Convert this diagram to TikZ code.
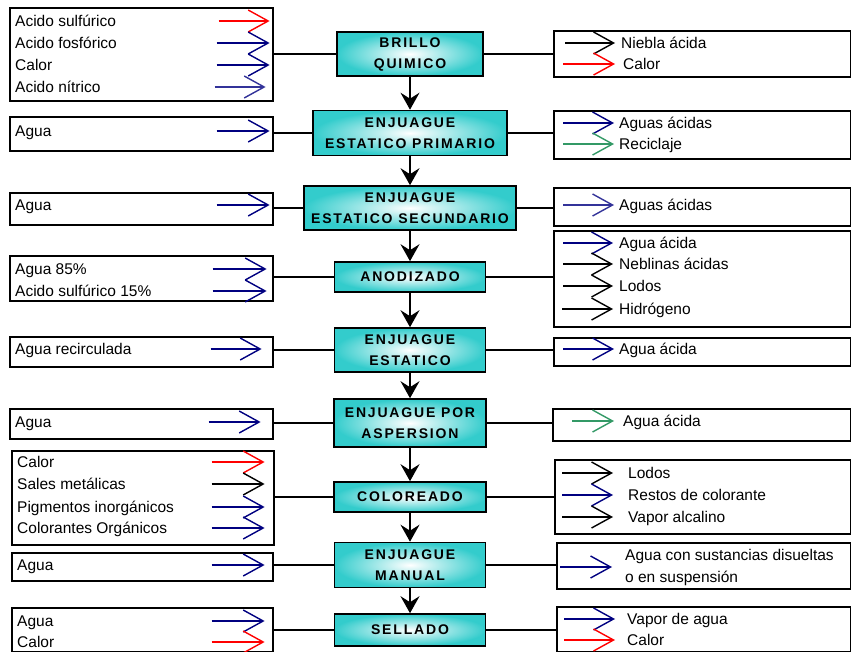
\documentclass[tikz,border=0pt]{standalone}
\usepackage{fontspec}
\setmainfont{Liberation Sans}
\newfontfamily\procfont{Liberation Sans}[LetterSpace=13]
\usetikzlibrary{arrows.meta,positioning,calc}

\definecolor{boxteal}{RGB}{51,204,204}
\definecolor{navyb}{RGB}{0,0,128}
\definecolor{indigob}{RGB}{51,51,153}
\definecolor{greenb}{RGB}{51,153,102}

\tikzset{
  proc/.style={draw, line width=1.6pt, inner color=white, outer color=boxteal,
    align=center, inner sep=0pt, font=\procfont\bfseries\fontsize{14}{21}\selectfont},
  sidebox/.style={draw, line width=1.6pt, anchor=north west, inner sep=0pt},
  txt/.style={anchor=west, inner sep=0pt, text height=11pt, text depth=0pt,
    font=\fontsize{15.5}{22}\selectfont},
  feed/.style={draw=#1, line width=1.4pt, -{Straight Barb[length=20pt,width=22pt]}},
  link/.style={line width=1.6pt},
  down/.style={line width=1.6pt, -{Stealth[length=17pt,width=19pt,inset=6pt]}},
}

\begin{document}
\begin{tikzpicture}[x=1pt,y=-1pt]
    \useasboundingbox (0,0) rectangle (851,652);

    % the process steps
    \node[proc, minimum width=146pt, minimum height=44pt] (p1) at (410,54) {BRILLO\\QUIMICO};
    \node[proc, minimum width=194pt, minimum height=45pt] (p2) at (410,133) {ENJUAGUE\\ESTATICO PRIMARIO};
    \node[proc, minimum width=212pt, minimum height=44pt] (p3) at (410,208) {ENJUAGUE\\ESTATICO SECUNDARIO};
    \node[proc, minimum width=151pt, minimum height=30pt] (p4) at (410,277) {ANODIZADO};
    \node[proc, minimum width=151pt, minimum height=44pt] (p5) at (410,350) {ENJUAGUE\\ESTATICO};
    \node[proc, minimum width=152pt, minimum height=48pt] (p6) at (410,423) {ENJUAGUE POR\\ASPERSION};
    \node[proc, minimum width=152pt, minimum height=30pt] (p7) at (410,497) {COLOREADO};
    \node[proc, minimum width=151pt, minimum height=45pt] (p8) at (410,565) {ENJUAGUE\\MANUAL};
    \node[proc, minimum width=151pt, minimum height=32pt] (p9) at (410,630) {SELLADO};

    % inputs (left)
    \node[sidebox, minimum width=263pt, minimum height=93pt] (in1) at (9,7) {};
    \node[sidebox, minimum width=263pt, minimum height=34pt] (in2) at (9,116) {};
    \node[sidebox, minimum width=263pt, minimum height=32pt] (in3) at (9,192) {};
    \node[sidebox, minimum width=263pt, minimum height=45pt] (in4) at (9,255) {};
    \node[sidebox, minimum width=263pt, minimum height=30pt] (in5) at (9,336) {};
    \node[sidebox, minimum width=263pt, minimum height=30pt] (in6) at (9,408) {};
    \node[sidebox, minimum width=262pt, minimum height=94pt] (in7) at (11,450) {};
    \node[sidebox, minimum width=261pt, minimum height=28pt] (in8) at (11,552) {};
    \node[sidebox, minimum width=261pt, minimum height=44pt] (in9) at (11,607) {};

    % outputs (right)
    \node[sidebox, minimum width=297pt, minimum height=46pt] (out1) at (553,30) {};
    \node[sidebox, minimum width=297pt, minimum height=48pt] (out2) at (553,110) {};
    \node[sidebox, minimum width=297pt, minimum height=38pt] (out3) at (553,187) {};
    \node[sidebox, minimum width=297pt, minimum height=96pt] (out4) at (553,230) {};
    \node[sidebox, minimum width=297pt, minimum height=28pt] (out5) at (553,337) {};
    \node[sidebox, minimum width=298pt, minimum height=32pt] (out6) at (552,408) {};
    \node[sidebox, minimum width=296pt, minimum height=74pt] (out7) at (554,459) {};
    \node[sidebox, minimum width=294pt, minimum height=46pt] (out8) at (556,542) {};
    \node[sidebox, minimum width=294pt, minimum height=45pt] (out9) at (556,606) {};

    % input labels
    \node[txt] (a11) at (15,21) {Acido sulfúrico};
    \node[txt] (a12) at (15,43) {Acido fosfórico};
    \node[txt] (a13) at (15,65) {Calor};
    \node[txt] (a14) at (15,87) {Acido nítrico};
    \node[txt] (a21) at (15,131) {Agua};
    \node[txt] (a31) at (15,205) {Agua};
    \node[txt] (a41) at (15,269) {Agua 85\%};
    \node[txt] (a42) at (15,291) {Acido sulfúrico 15\%};
    \node[txt] (a51) at (15,349) {Agua recirculada};
    \node[txt] (a61) at (15,422) {Agua};
    \node[txt] (a71) at (17,462) {Calor};
    \node[txt] (a72) at (17,484) {Sales metálicas};
    \node[txt] (a73) at (17,507) {Pigmentos inorgánicos};
    \node[txt] (a74) at (17,528) {Colorantes Orgánicos};
    \node[txt] (a81) at (17,565) {Agua};
    \node[txt] (a91) at (17,621) {Agua};
    \node[txt] (a92) at (17,642) {Calor};

    % output labels
    \node[txt] (b11) at (621,43) {Niebla ácida};
    \node[txt] (b12) at (623,64) {Calor};
    \node[txt] (b21) at (619,123) {Aguas ácidas};
    \node[txt] (b22) at (619,144) {Reciclaje};
    \node[txt] (b31) at (619,205) {Aguas ácidas};
    \node[txt] (b41) at (619,243) {Agua ácida};
    \node[txt] (b42) at (619,264) {Neblinas ácidas};
    \node[txt] (b43) at (619,286) {Lodos};
    \node[txt] (b44) at (619,309) {Hidrógeno};
    \node[txt] (b51) at (619,349) {Agua ácida};
    \node[txt] (b61) at (623,421) {Agua ácida};
    \node[txt] (b71) at (628,473) {Lodos};
    \node[txt] (b72) at (628,495) {Restos de colorante};
    \node[txt] (b73) at (628,517) {Vapor alcalino};
    \node[anchor=west, inner sep=0pt, align=left, font=\fontsize{15.5}{22}\selectfont]
        (b8) at (625,567) {Agua con sustancias disueltas\\o en suspensión};
    \node[txt] (b91) at (627,619) {Vapor de agua};
    \node[txt] (b92) at (627,640) {Calor};

    % feed arrows going in
    \draw[feed=red]     ($(a11 -| in1.east)+(-55,0)$) -- ($(a11 -| in1.east)+(-4,0)$);
    \draw[feed=navyb]   ($(a12 -| in1.east)+(-57,0)$) -- ($(a12 -| in1.east)+(-4,0)$);
    \draw[feed=navyb]   ($(a13 -| in1.east)+(-57,0)$) -- ($(a13 -| in1.east)+(-4,0)$);
    \draw[feed=indigob] ($(a14 -| in1.east)+(-59,0)$) -- ($(a14 -| in1.east)+(-8,0)$);
    \draw[feed=navyb]   ($(a21 -| in2.east)+(-57,0)$) -- ($(a21 -| in2.east)+(-4,0)$);
    \draw[feed=navyb]   ($(a31 -| in3.east)+(-57,0)$) -- ($(a31 -| in3.east)+(-4,0)$);
    \draw[feed=navyb]   ($(a41 -| in4.east)+(-61,0)$) -- ($(a41 -| in4.east)+(-7,0)$);
    \draw[feed=navyb]   ($(a42 -| in4.east)+(-61,0)$) -- ($(a42 -| in4.east)+(-7,0)$);
    \draw[feed=navyb]   ($(a51 -| in5.east)+(-63,0)$) -- ($(a51 -| in5.east)+(-12,0)$);
    \draw[feed=navyb]   ($(a61 -| in6.east)+(-65,0)$) -- ($(a61 -| in6.east)+(-13,0)$);
    \draw[feed=red]     ($(a71 -| in7.east)+(-63,0)$) -- ($(a71 -| in7.east)+(-10,0)$);
    \draw[feed=black]   ($(a72 -| in7.east)+(-63,0)$) -- ($(a72 -| in7.east)+(-10,0)$);
    \draw[feed=navyb]   ($(a73 -| in7.east)+(-63,0)$) -- ($(a73 -| in7.east)+(-10,0)$);
    \draw[feed=navyb]   ($(a74 -| in7.east)+(-63,0)$) -- ($(a74 -| in7.east)+(-10,0)$);
    \draw[feed=navyb]   ($(a81 -| in8.east)+(-62,0)$) -- ($(a81 -| in8.east)+(-9,0)$);
    \draw[feed=navyb]   ($(a91 -| in9.east)+(-62,0)$) -- ($(a91 -| in9.east)+(-9,0)$);
    \draw[feed=red]     ($(a92 -| in9.east)+(-62,0)$) -- ($(a92 -| in9.east)+(-9,0)$);

    % arrows coming out
    \draw[feed=black]   ($(b11 -| out1.west)+(12,0)$) -- ($(b11 -| out1.west)+(62,0)$);
    \draw[feed=red]     ($(b12 -| out1.west)+(10,0)$) -- ($(b12 -| out1.west)+(62,0)$);
    \draw[feed=navyb]   ($(b21 -| out2.west)+(10,0)$) -- ($(b21 -| out2.west)+(61,0)$);
    \draw[feed=greenb]  ($(b22 -| out2.west)+(10,0)$) -- ($(b22 -| out2.west)+(61,0)$);
    \draw[feed=indigob] ($(b31 -| out3.west)+(10,0)$) -- ($(b31 -| out3.west)+(61,0)$);
    \draw[feed=navyb]   ($(b41 -| out4.west)+(10,0)$) -- ($(b41 -| out4.west)+(60,0)$);
    \draw[feed=black]   ($(b42 -| out4.west)+(10,0)$) -- ($(b42 -| out4.west)+(60,0)$);
    \draw[feed=black]   ($(b43 -| out4.west)+(10,0)$) -- ($(b43 -| out4.west)+(60,0)$);
    \draw[feed=black]   ($(b44 -| out4.west)+(9,0)$) -- ($(b44 -| out4.west)+(60,0)$);
    \draw[feed=navyb]   ($(b51 -| out5.west)+(10,0)$) -- ($(b51 -| out5.west)+(61,0)$);
    \draw[feed=greenb]  ($(b61 -| out6.west)+(20,0)$) -- ($(b61 -| out6.west)+(62,0)$);
    \draw[feed=black]   ($(b71 -| out7.west)+(8,0)$) -- ($(b71 -| out7.west)+(59,0)$);
    \draw[feed=navyb]   ($(b72 -| out7.west)+(8,0)$) -- ($(b72 -| out7.west)+(59,0)$);
    \draw[feed=black]   ($(b73 -| out7.west)+(8,0)$) -- ($(b73 -| out7.west)+(59,0)$);
    \draw[feed=navyb]   ($(b8 -| out8.west)+(4,0)$) -- ($(b8 -| out8.west)+(56,0)$);
    \draw[feed=navyb]   ($(b91 -| out9.west)+(8,0)$) -- ($(b91 -| out9.west)+(59,0)$);
    \draw[feed=red]     ($(b92 -| out9.west)+(8,0)$) -- ($(b92 -| out9.west)+(59,0)$);

    % links to the side boxes
    \foreach \i in {1,...,9} {
        \draw[link] (p\i.west) -- (p\i.west -| in\i.east);
        \draw[link] (p\i.east) -- (p\i.east -| out\i.west);
    }

    % the flow downwards
    \foreach \i/\j in {1/2,2/3,3/4,4/5,5/6,6/7,7/8,8/9}
        \draw[down] (p\i.south) -- (p\j.north);
\end{tikzpicture}
\end{document}
